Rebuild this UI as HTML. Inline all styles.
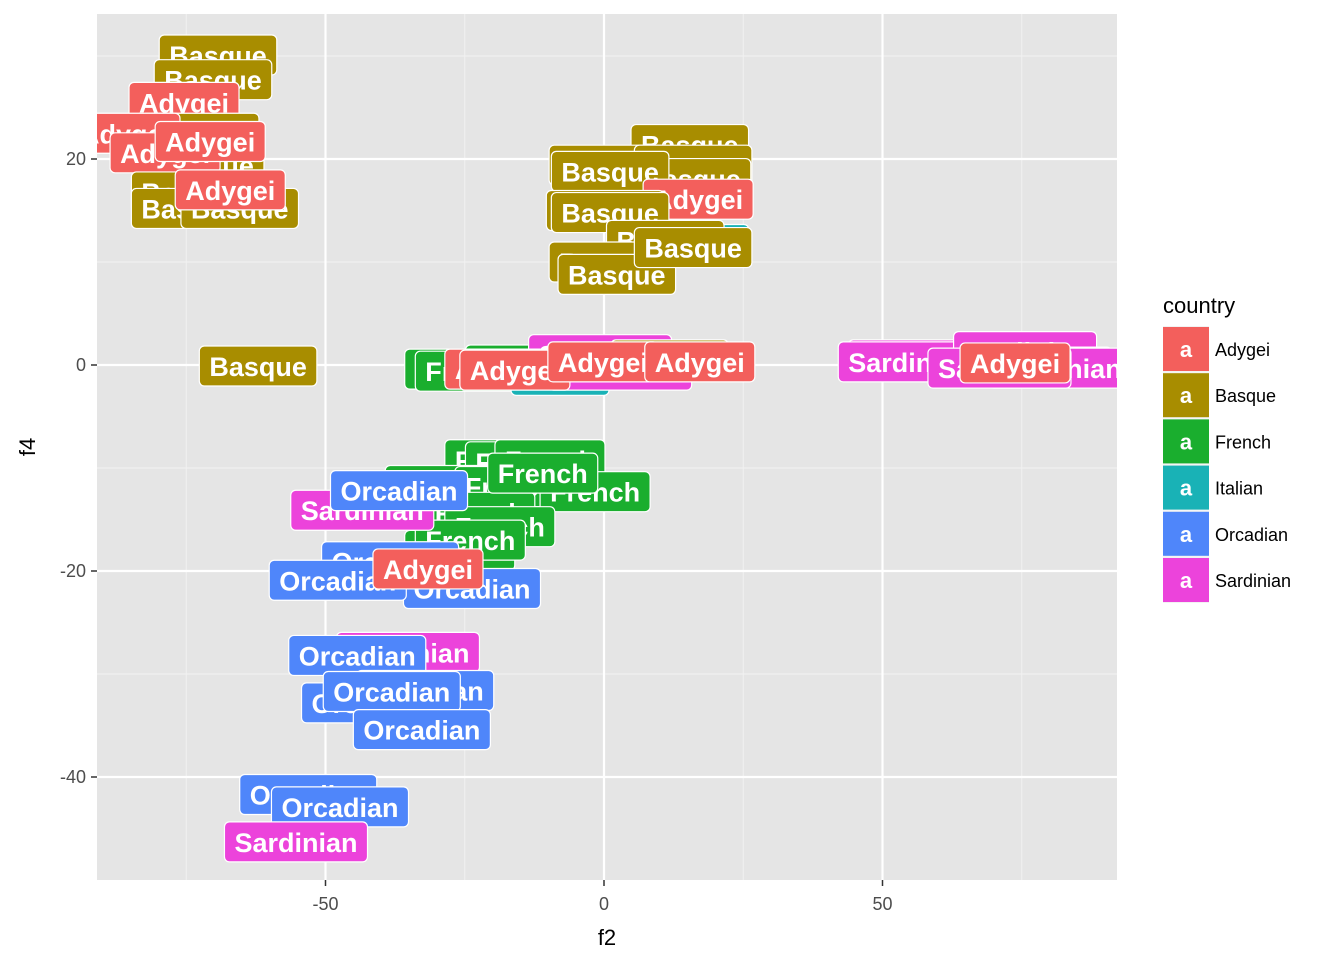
<!DOCTYPE html>
<html><head><meta charset="utf-8"><style>
body{margin:0;background:#fff;font-family:"Liberation Sans",Arial,sans-serif}
svg text{font-family:"Liberation Sans",Arial,sans-serif}
</style></head><body>
<svg id="chart" width="1344" height="960" xmlns="http://www.w3.org/2000/svg">
<defs><clipPath id="pc"><rect x="97" y="14" width="1020" height="866"/></clipPath></defs>
<rect x="97" y="14" width="1020" height="866" fill="#e5e5e5"/>
<g id="grid"></g>
<g id="labels" clip-path="url(#pc)"></g>
<g id="axes"></g>
<text x="607" y="945" font-size="22" text-anchor="middle" fill="#000">f2</text>
<text transform="translate(35,447) rotate(-90)" font-size="22" text-anchor="middle" fill="#000">f4</text>
<g id="legend"></g>
</svg>
<script>
const countries=["Adygei","Basque","French","Italian","Orcadian","Sardinian"];
const colors=["#F35F5C","#A88D00","#1AAE2E","#19B2B6","#4F86FA","#EC43DB"];
const xTicks=[-50,0,50];
const yTicks=[-40,-20,0,20];
const ptCountry=["Basque","Basque","Adygei","Basque","Adygei","Basque","Adygei","Basque","Basque","Basque","Adygei","Adygei","Basque",
"Basque","Basque","Basque","Basque","Basque","Adygei","Basque","Basque","Italian","Basque","Basque","Basque","Basque",
"French","French","French","Italian","Sardinian","Sardinian","Basque","Adygei","Adygei","Adygei","Adygei",
"Sardinian","Sardinian","Sardinian","Sardinian","Sardinian","Sardinian","Adygei",
"French","French","French","French","French","French","French","French","French","French","French",
"Sardinian","Orcadian","Orcadian","Orcadian","Orcadian","Adygei","Sardinian","Orcadian","Orcadian","Orcadian","Orcadian","Orcadian","Orcadian","Orcadian","Sardinian"];
const ptF2=[-69.3,-70.2,-75.4,-72.5,-86,-71.6,-78.8,-74.3,-74.3,-65.4,-70.7,-67.1,-62.1,
15.4,0.7,16,15.8,1.1,16.9,0.2,1.1,17.2,11,0.7,2.3,16,
-25.9,-24,-15,-7.9,-0.7,2.9,11.8,-18.7,-16,-0.2,17.2,
56.7,54.9,75.6,78.3,81.9,71,73.8,
-18.7,-15,-9.7,-29.4,-16.9,-1.6,-22.3,-18.7,-25.9,-24,-11,
-43.4,-36.8,-38.4,-23.7,-47.8,-31.6,-35.2,-44.3,-32.1,-42,-38.1,-32.7,-53.1,-47.4,-55.3];
const ptF4=[30.1,27.7,25.5,22.5,22.5,19.4,20.6,16.8,15.2,15.2,21.7,17,-0.1,
21.4,19.4,19.4,18.1,18.8,16.1,15,14.8,11.7,12.1,10,8.8,11.4,
-0.4,-0.6,0,-1,1,-0.5,0.5,-0.4,-0.5,0.3,0.3,
0.5,0.3,1.3,-0.2,-0.3,-0.3,0.2,
-9.2,-9.4,-9.2,-11.7,-11.8,-12.3,-14.3,-15.7,-18,-17,-10.5,
-14.1,-12.2,-19.1,-21.7,-20.9,-19.8,-27.9,-28.2,-31.6,-32.8,-31.7,-35.4,-41.7,-42.9,-46.3];
const NS="http://www.w3.org/2000/svg";
const X=v=>604+v*5.57, Y=v=>365-v*10.3;
function mk(t,a,p){const e=document.createElementNS(NS,t);for(const k in a)e.setAttribute(k,a[k]);p.appendChild(e);return e;}
const grid=document.getElementById('grid');
[-75,-25,25,75].forEach(v=>{const l=mk('line',{x1:X(v),x2:X(v),y1:14,y2:880,stroke:'#f2f2f2','stroke-width':1},grid);

});
[-30,-10,10,30].forEach(v=>{const l=mk('line',{x1:97,x2:1117,y1:Y(v),y2:Y(v),stroke:'#f2f2f2','stroke-width':1},grid);

});
const axes=document.getElementById('axes');
xTicks.forEach(v=>{const l=mk('line',{x1:X(v),x2:X(v),y1:14,y2:880,stroke:'#fff','stroke-width':2.2},grid);


mk('line',{x1:X(v),x2:X(v),y1:880,y2:886,stroke:'#333','stroke-width':1.5},axes);
const t=mk('text',{x:X(v),y:910,'font-size':18,'text-anchor':'middle',fill:'#4d4d4d'},axes);t.textContent=v;

});
yTicks.forEach(v=>{const l=mk('line',{x1:97,x2:1117,y1:Y(v),y2:Y(v),stroke:'#fff','stroke-width':2.2},grid);


mk('line',{x1:91,x2:97,y1:Y(v),y2:Y(v),stroke:'#333','stroke-width':1.5},axes);
const t=mk('text',{x:86,y:Y(v)+6,'font-size':18,'text-anchor':'end',fill:'#4d4d4d'},axes);t.textContent=v;

});
const lg=document.getElementById('labels');
ptCountry.forEach((c,i)=>{const col=colors[countries.indexOf(c)];
const g=mk('g',{},lg);


const r=mk('rect',{rx:5,ry:5,fill:col,stroke:'#fff','stroke-width':1.2},g);
const t=mk('text',{x:X(ptF2[i]),y:Y(ptF4[i])+10,'font-size':27,'font-weight':'bold','text-anchor':'middle',fill:'#fff'},g);
t.textContent=c;
const w=t.getComputedTextLength()+20;
r.setAttribute('x',X(ptF2[i])-w/2);r.setAttribute('y',Y(ptF4[i])-20);r.setAttribute('width',w);r.setAttribute('height',40);});
const leg=document.getElementById('legend');
const tt=mk('text',{x:1163,y:313,'font-size':22,fill:'#000'},leg);tt.textContent='country';


countries.forEach((c,i)=>{const y=326+i*46.2;
const g=mk('g',{},leg);


mk('rect',{x:1163,y:y,width:46,height:46,fill:'#f2f2f2'},g);
mk('rect',{x:1163,y:y+1,width:46,height:44,fill:colors[i]},g);
const a=mk('text',{x:1186,y:y+31,'font-size':22,'font-weight':'bold','text-anchor':'middle',fill:'#fff'},g);a.textContent='a';
const t=mk('text',{x:1215,y:y+30,'font-size':18,fill:'#000'},g);t.textContent=c;});
</script>
</body></html>
